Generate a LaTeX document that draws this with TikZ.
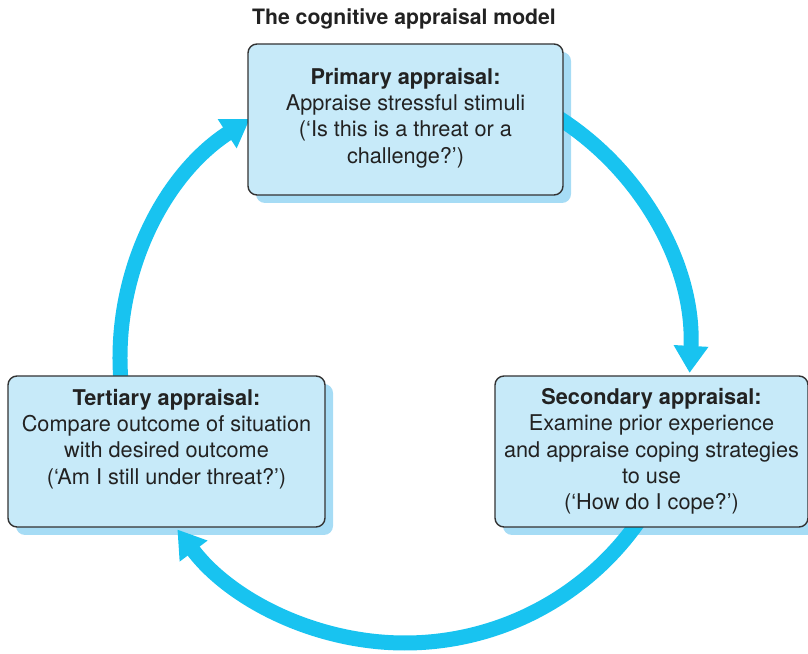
\documentclass[tikz,border=0pt]{standalone}
\usepackage{fontspec}
\setmainfont{TeX Gyre Heros}
\usetikzlibrary{arrows.meta,calc}
\definecolor{arrowcyan}{HTML}{18C3F0}
\definecolor{boxfill}{HTML}{C7EAF9}
\definecolor{boxshadow}{HTML}{A6DCF5}
\definecolor{boxline}{HTML}{333333}
\definecolor{txt}{HTML}{222222}
\tikzset{
  stagebox/.style={draw=boxline, line width=1.4pt, fill=boxfill, rounded corners=9pt,
    minimum height=151pt, inner sep=0pt},
  shadowbox/.style={fill=boxshadow, rounded corners=9pt, minimum height=151pt, inner sep=0pt},
  stagetext/.style={align=center, text=txt, font=\fontsize{21.7}{26.3}\selectfont, inner sep=0pt},
  cyclearrow/.style={draw=arrowcyan, line width=15pt, -{Triangle[width=33pt,length=27pt]}},
}
\begin{document}
\begin{tikzpicture}[x=1pt,y=1pt]
\useasboundingbox (0,0) rectangle (808,653);
\coordinate (c) at (405,295);
% shadows
\node[shadowbox, minimum width=315pt] (ps) at (413.5,525.5) {};
\node[shadowbox, minimum width=317pt] (ts) at (174.5,193.5) {};
\node[shadowbox, minimum width=313pt] (ss) at (659.5,193.5) {};
% arrows
\draw[cyclearrow] ($(c)+(60:285)$) arc[start angle=60, end angle=-3, radius=285];
\draw[cyclearrow] ($(c)+(-33:285)$) arc[start angle=-33, end angle=-143, radius=285];
\draw[cyclearrow] ($(c)+(185:285)$) arc[start angle=185, end angle=123, radius=285];
% boxes
\node[stagebox, minimum width=315pt] (p) at (405.5,533.5) {};
\node[stagebox, minimum width=317pt] (t) at (166.5,201.5) {};
\node[stagebox, minimum width=313pt] (s) at (651.5,201.5) {};
% texts
\node[font=\bfseries\fontsize{21.2}{26}\selectfont, text=txt, anchor=base, inner sep=0pt] (title) at (404,628) {The cognitive appraisal model};
\node[stagetext] (pt) at (405.5,535) {\textbf{Primary appraisal:}\\Appraise stressful stimuli\\(‘Is this is a threat or a\\challenge?’)};
\node[stagetext] (tt) at (166.5,214) {\textbf{Tertiary appraisal:}\\Compare outcome of situation\\with desired outcome\\(‘Am I still under threat?’)};
\node[stagetext] (st) at (651.5,201.5) {\textbf{Secondary appraisal:}\\Examine prior experience\\and appraise coping strategies\\to use\\(‘How do I cope?’)};
\end{tikzpicture}
\end{document}
